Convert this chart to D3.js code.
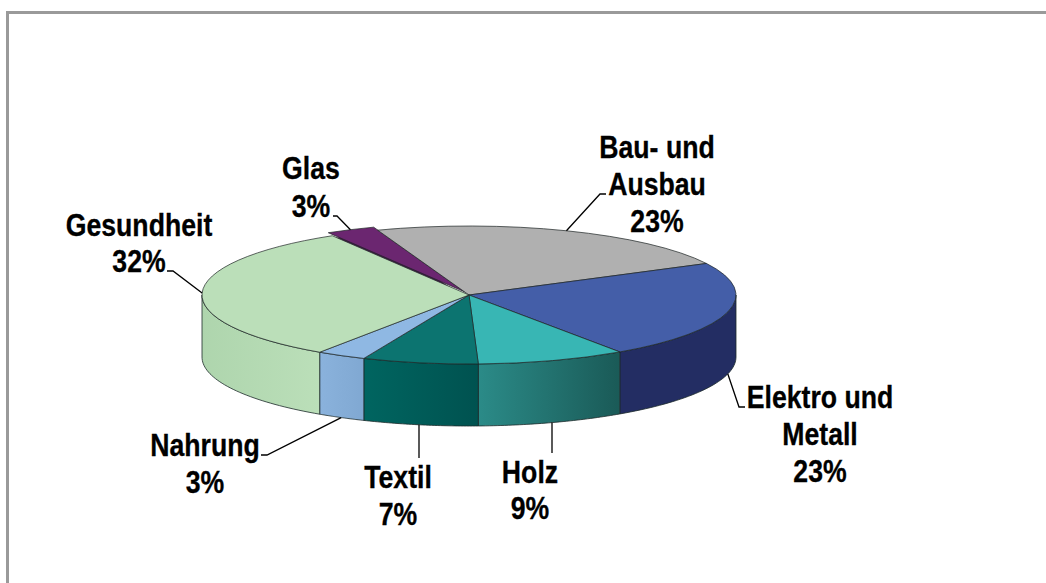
<!DOCTYPE html>
<html>
<head>
<meta charset="utf-8">
<script src="https://cdn.jsdelivr.net/npm/d3@7"></script>
<style>
    html, body { margin: 0; background: #fff; }
    svg { display: block; }
    text { font-family: "Liberation Sans", sans-serif; font-weight: bold; font-size: 31px; fill: #000; stroke: #000; stroke-width: 0.3px; text-anchor: middle; }
</style>
</head>
<body>
<div id="chart"></div>
<script>
// Data, clockwise from Bau- und Ausbau
const categories = ["Bau- und Ausbau", "Elektro und Metall", "Holz", "Textil", "Nahrung", "Gesundheit", "Glas"];
const shares = [23, 23, 9, 7, 3, 32, 3];
const labelLines = [["Bau- und", "Ausbau", "23%"], ["Elektro und", "Metall", "23%"], ["Holz", "9%"], ["Textil", "7%"], ["Nahrung", "3%"], ["Gesundheit", "32%"], ["Glas", "3%"]];

// Colours per slice
const topColors = ["#b0b0b0", "#445ea8", "#38b6b4", "#0c7470", "#8fb8e3", "#bbdfb9", "#6b2670"];
const wallLeft = ["#8a8a8a", "#232d63", "#2b8b88", "#006560", "#8ab2dc", "#aed5ad", "#4a1a50"];
const wallRight = ["#8a8a8a", "#232d63", "#1a5a57", "#005250", "#80a8d2", "#bbdfb9", "#4a1a50"];

// Label placement: centre x, first baseline, elbow of the leader line
const labelX = [657, 820, 530, 398, 205, 139, 311];
const labelY = [158, 408, 483, 488, 456, 236, 179];
const lineGap = [37, 37, 36, 37, 37, 36, 38];
const elbowX = [600, 739, 552, 419, 267, 173, 337];
const elbowY = [194, 407, 453, 458, 455, 271, 216];
const elbowEnd = [606, 745, 552, 419, 261, 167, 333];

// Set dimensions
const width = 1046;
const height = 583;
const cx = 469;
const cy = 295;
const rx = 267;
const ry = 69;
const depth = 62;
const glasOffsetX = 4;
const glasOffsetY = 3;
const textSqueeze = 0.86;

const svg = d3.select("#chart").append("svg")
    .attr("width", width)
    .attr("height", height);

// Frame, only top and left
svg.append("rect").attr("x", 6).attr("y", 11).attr("width", width - 6).attr("height", 3).attr("fill", "#9a9a9a");
svg.append("rect").attr("x", 6).attr("y", 11).attr("width", 3).attr("height", height - 11).attr("fill", "#9a9a9a");

const pie = d3.pie().sort(null)
    .startAngle(-20 * Math.PI / 180)
    .endAngle(340 * Math.PI / 180);
const slices = pie(shares);

const arc = d3.arc().innerRadius(0).outerRadius(rx);
const projX = a => cx + rx * Math.sin(a);
const projY = a => cy - ry * Math.cos(a);

const defs = svg.append("defs");
slices.forEach((d, i) => {
    const g = defs.append("linearGradient").attr("id", `wall${i}`);
    g.append("stop").attr("offset", "0%").attr("stop-color", wallLeft[i]);
    g.append("stop").attr("offset", "100%").attr("stop-color", wallRight[i]);
});

// Side walls, only the front half of the disc shows
const wallLine = d3.line();
function wallPath(d) {
    const from = Math.max(d.startAngle, Math.PI / 2);
    const to = Math.min(d.endAngle, Math.PI * 3 / 2);
    if (from >= to) return null;
    const angles = d3.range(0, 41).map(k => from + (to - from) * k / 40);
    const upper = angles.map(a => [projX(a), projY(a)]);
    const lower = angles.slice().reverse().map(a => [projX(a), projY(a) + depth]);
    return wallLine(upper.concat(lower)) + "Z";
}

svg.append("g").selectAll("path")
    .data(slices.filter(d => wallPath(d)))
    .enter().append("path")
    .attr("d", wallPath)
    .attr("fill", d => `url(#wall${d.index})`)
    .attr("stroke", "#1c2a2a")
    .attr("stroke-width", 0.8);

// Top faces. Glas is pulled out a little and shows its dark cut face behind
const faceTransform = d => {
    const ox = d.index === 6 ? glasOffsetX : 0;
    const oy = d.index === 6 ? glasOffsetY : 0;
    return `translate(${cx - ox},${cy - oy}) scale(1,${ry / rx})`;
};
const glas = slices[6];
svg.append("path")
    .attr("d", arc(glas))
    .attr("transform", `translate(${cx - glasOffsetX},${cy - glasOffsetY + 6}) scale(1,${ry / rx})`)
    .attr("fill", wallLeft[6]);

svg.append("g").selectAll("path")
    .data([glas].concat(slices.slice(0, 6)))
    .enter().append("path")
    .attr("d", arc)
    .attr("transform", faceTransform)
    .attr("fill", d => topColors[d.index])
    .attr("stroke", "#1c2424")
    .attr("stroke-width", 0.7)
    .attr("vector-effect", "non-scaling-stroke");

// Leader lines from the middle of each slice to its label
const leader = d3.line();
svg.append("g").selectAll("path")
    .data(slices)
    .enter().append("path")
    .attr("d", d => {
        const mid = (d.startAngle + d.endAngle) / 2;
        const front = Math.cos(mid) < 0;
        const ox = d.index === 6 ? glasOffsetX : 0;
        const oy = d.index === 6 ? glasOffsetY : 0;
        const startX = front && Math.abs(Math.sin(mid)) < 0.35 ? elbowX[d.index] : projX(mid) - ox;
        const start = [startX, projY(mid) - oy + (front ? depth : 0)];
        return leader([start, [elbowX[d.index], elbowY[d.index]], [elbowEnd[d.index], elbowY[d.index]]]);
    })
    .attr("fill", "none")
    .attr("stroke", "#000")
    .attr("stroke-width", 1.3);

// Labels, squeezed horizontally like the narrow face of the original
const labels = svg.append("g").selectAll("text")
    .data(categories)
    .enter().append("text")
    .attr("transform", (d, i) => `translate(${labelX[i]},${labelY[i]}) scale(${textSqueeze},1)`);

labels.selectAll("tspan")
    .data((d, i) => labelLines[i].map(t => ({ t, i })))
    .enter().append("tspan")
    .attr("x", 0)
    .attr("dy", (d, k) => k === 0 ? 0 : lineGap[d.i])
    .text(d => d.t);
</script>
</body>
</html>
